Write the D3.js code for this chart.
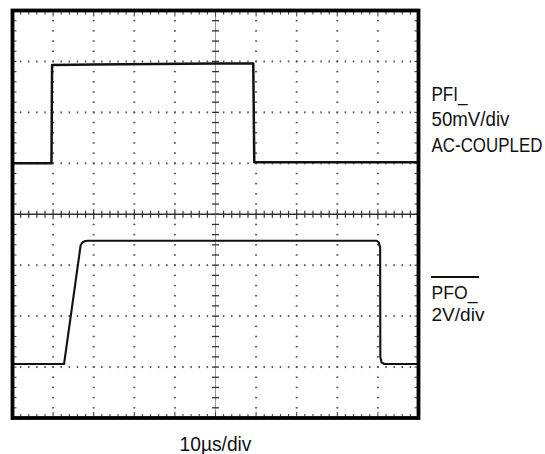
<!DOCTYPE html>
<html>
<head>
<meta charset="utf-8">
<script src="https://cdn.jsdelivr.net/npm/d3@7"></script>
<style>
  html, body { margin: 0; padding: 0; background: #fff; }
  svg { display: block; }
  text { font-family: "Liberation Sans Narrow", "Liberation Sans", Arial, sans-serif; fill: #111; }
</style>
</head>
<body>
<div id="scope"></div>
<script>
// Horizontal: 10 divisions at 10us/div
const timeRangeUs = [0, 100];
const majorTimeTicks = [0, 10, 20, 30, 40, 50, 60, 70, 80, 90, 100];
// Vertical: 8 divisions, screen centre = 0 div
const divRange = [-4, 4];
const majorDivTicks = [-4, -3, -2, -1, 0, 1, 2, 3, 4];

// PFI_ trace, 50mV/div, AC-coupled (mV relative to screen centre)
const pfiScale = 50;
const pfiTime = [0, 9.6, 9.75, 20, 35, 50, 59.3, 59.55, 80, 100];
const pfiMv = [50, 50, 146.5, 147, 147.5, 148, 148, 51, 51, 51];

// PFO_ trace, 2V/div (V relative to screen centre)
const pfoScale = 2;
const pfoTime = [0, 12.7, 16.8, 17.3, 17.9, 18.6, 50, 89.7, 90.2, 90.55, 90.6, 90.9, 91.6, 100];
const pfoVolts = [-5.88, -5.88, -1.2, -1.1, -1.05, -1.04, -1.04, -1.04, -1.1, -1.3, -5.6, -5.82, -5.88, -5.88];

const pfiLabels = ["PFI_", "50mV/div", "AC-COUPLED"];
const pfoLabels = ["PFO_", "2V/div"];
const timeLabel = "10µs/div";

// squeeze a label horizontally to the condensed width of the original type
function condense(sel, x, y, width) {
    sel.attr("x", 0).attr("y", 0);
    const natural = sel.node().getComputedTextLength();
    const sx = width / natural;
    sel.attr("transform", `translate(${x},${y}) scale(${sx},1)`);
}

function initScope() {
    const W = 545, H = 454;
    const frame = { left: 12.5, top: 10.5, right: 418.5, bottom: 418 };

    const svg = d3.select("#scope")
        .append("svg")
        .attr("width", W)
        .attr("height", H);

    const x = d3.scaleLinear().domain(timeRangeUs).range([frame.left, frame.right]);
    const y = d3.scaleLinear().domain(divRange).range([frame.bottom, frame.top]);

    const minorX = d3.range(timeRangeUs[0], timeRangeUs[1] + 0.001, 2);
    const minorY = d3.range(divRange[0], divRange[1] + 0.001, 0.2).map(v => +v.toFixed(2));

    // Dotted graticule
    const grid = svg.append("g").attr("fill", "#555");
    majorTimeTicks.filter(t => t > 0 && t < 100 && t !== 50).forEach(t => {
        grid.selectAll(null)
            .data(minorY.filter(v => v > -4 && v < 4))
            .join("rect")
            .attr("x", x(t) - 1)
            .attr("y", d => y(d) - 0.75)
            .attr("width", 2)
            .attr("height", 1.5);
    });
    majorDivTicks.filter(v => v > -4 && v < 4 && v !== 0).forEach(v => {
        grid.selectAll(null)
            .data(minorX.filter(t => t > 0 && t < 100))
            .join("rect")
            .attr("x", d => x(d) - 0.75)
            .attr("y", y(v) - 1)
            .attr("width", 1.5)
            .attr("height", 2);
    });

    // Centre crosshair with minor ticks
    const axis = svg.append("g").attr("stroke", "#333");
    axis.append("line")
        .attr("x1", frame.left).attr("x2", frame.right)
        .attr("y1", y(0)).attr("y2", y(0))
        .attr("stroke-width", 1.3);
    axis.selectAll(".xt")
        .data(minorX)
        .join("line")
        .attr("x1", d => x(d)).attr("x2", d => x(d))
        .attr("y1", d => y(0) - (d % 10 === 0 ? 5 : 3.5))
        .attr("y2", d => y(0) + (d % 10 === 0 ? 5 : 3.5))
        .attr("stroke-width", 1.2);
    axis.append("line")
        .attr("x1", x(50)).attr("x2", x(50))
        .attr("y1", frame.top).attr("y2", frame.bottom)
        .attr("stroke", "#999")
        .attr("stroke-width", 1);
    axis.selectAll(".yt")
        .data(minorY)
        .join("line")
        .attr("x1", x(50) - 3.5).attr("x2", x(50) + 3.5)
        .attr("y1", d => y(d)).attr("y2", d => y(d))
        .attr("stroke-width", 1.3);

    // Ticks along the inside of the frame
    const edge = svg.append("g").attr("stroke", "#444").attr("stroke-width", 1.1);
    edge.selectAll(".top")
        .data(minorX)
        .join("line")
        .attr("x1", d => x(d)).attr("x2", d => x(d))
        .attr("y1", frame.top).attr("y2", d => frame.top + (d % 10 === 0 ? 6 : 4));
    edge.selectAll(".bot")
        .data(minorX)
        .join("line")
        .attr("x1", d => x(d)).attr("x2", d => x(d))
        .attr("y1", frame.bottom).attr("y2", d => frame.bottom - (d % 10 === 0 ? 6 : 4));
    edge.selectAll(".lft")
        .data(minorY)
        .join("line")
        .attr("y1", d => y(d)).attr("y2", d => y(d))
        .attr("x1", frame.left).attr("x2", frame.left + 4);
    edge.selectAll(".rgt")
        .data(minorY)
        .join("line")
        .attr("y1", d => y(d)).attr("y2", d => y(d))
        .attr("x1", frame.right).attr("x2", frame.right - 4);

    // Traces
    const line = d3.line().x(d => x(d[0])).y(d => y(d[1]));
    svg.append("path")
        .datum(pfiTime.map((t, i) => [t, pfiMv[i] / pfiScale]))
        .attr("fill", "none")
        .attr("stroke", "#111")
        .attr("stroke-width", 2.5)
        .attr("stroke-linejoin", "round")
        .attr("d", line);
    svg.append("path")
        .datum(pfoTime.map((t, i) => [t, pfoVolts[i] / pfoScale]))
        .attr("fill", "none")
        .attr("stroke", "#111")
        .attr("stroke-width", 2.1)
        .attr("stroke-linejoin", "round")
        .attr("d", line);

    // Frame
    svg.append("rect")
        .attr("x", frame.left)
        .attr("y", frame.top)
        .attr("width", frame.right - frame.left)
        .attr("height", frame.bottom - frame.top)
        .attr("fill", "none")
        .attr("stroke", "#000")
        .attr("stroke-width", 3.8);

    // Channel labels
    const pfiLen = [36, 78, 111];
    pfiLabels.forEach((d, i) => {
        svg.append("text")
            .attr("font-size", "19.5px")
            .text(d)
            .call(condense, 431.5, 100.5 + i * 25.5, pfiLen[i]);
    });

    const pfoLen = [46, 53];
    pfoLabels.forEach((d, i) => {
        svg.append("text")
            .attr("font-size", "19px")
            .text(d)
            .call(condense, 431.5, 298.5 + i * 22, pfoLen[i]);
    });
    // active-low overline on PFO_
    svg.append("line")
        .attr("x1", 431).attr("x2", 479)
        .attr("y1", 277).attr("y2", 277)
        .attr("stroke", "#111")
        .attr("stroke-width", 1.8);

    svg.append("text")
        .attr("font-size", "20px")
        .text(timeLabel)
        .call(condense, 179.5, 451, 72);
}

initScope();
</script>
</body>
</html>
